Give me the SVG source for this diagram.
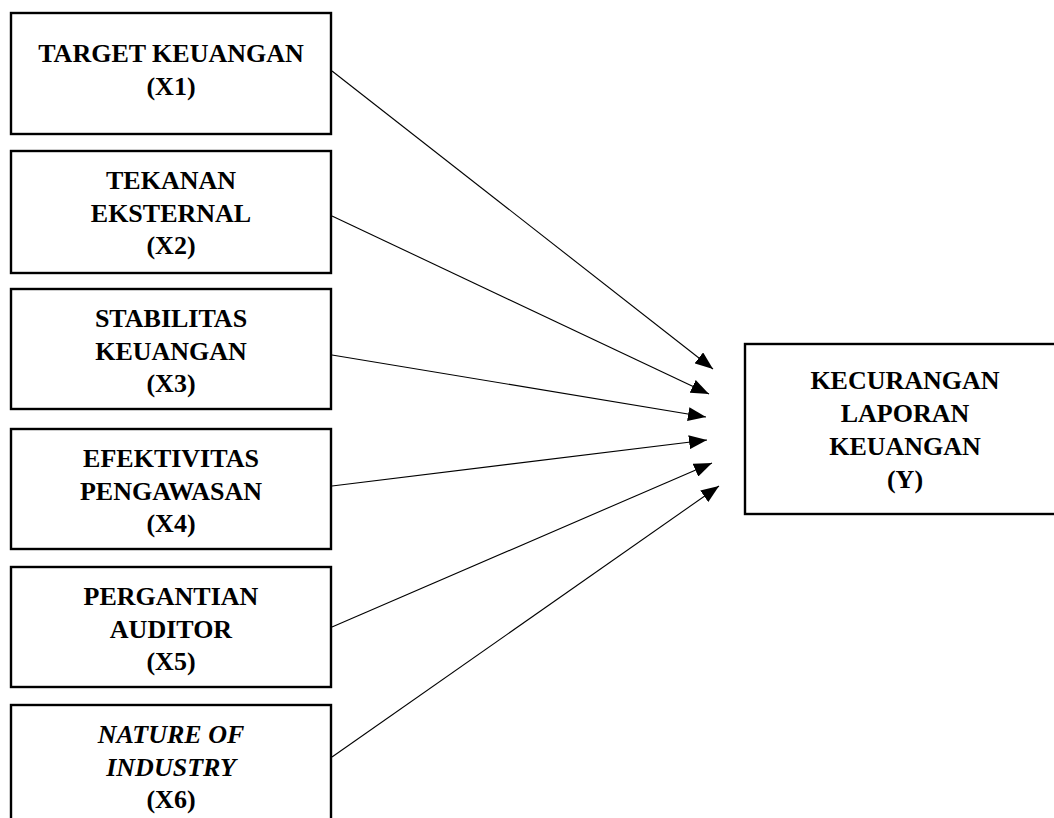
<svg xmlns="http://www.w3.org/2000/svg" width="1054" height="818" viewBox="0 0 1054 818">
<style>
  .box { fill: #ffffff; stroke: #000000; stroke-width: 2.4; }
  .lbl { font-family: "Liberation Serif", "Times New Roman", serif; font-weight: bold; font-size: 26px; fill: #000000; text-anchor: middle; }
  .it { font-style: italic; }
  .conn { stroke: #000000; stroke-width: 1.1; fill: none; marker-end: url(#arrow); }
</style>
<defs>
  <marker id="arrow" viewBox="0 0 18 14" refX="18" refY="7" markerWidth="18" markerHeight="14" markerUnits="userSpaceOnUse" orient="auto">
    <path d="M0,0 L18,7 L0,14 Z" fill="#000000"/>
  </marker>
</defs>
<rect width="1054" height="818" fill="#ffffff"/>

<g id="x1">
  <rect class="box" x="11" y="13" width="320" height="121"/>
  <text class="lbl" x="171" y="62">TARGET KEUANGAN</text>
  <text class="lbl" x="171" y="95">(X1)</text>
</g>
<g id="x2">
  <rect class="box" x="11" y="151" width="320" height="122"/>
  <text class="lbl" x="171" y="189">TEKANAN</text>
  <text class="lbl" x="171" y="222">EKSTERNAL</text>
  <text class="lbl" x="171" y="254">(X2)</text>
</g>
<g id="x3">
  <rect class="box" x="11" y="289" width="320" height="120"/>
  <text class="lbl" x="171" y="327">STABILITAS</text>
  <text class="lbl" x="171" y="360">KEUANGAN</text>
  <text class="lbl" x="171" y="392">(X3)</text>
</g>
<g id="x4">
  <rect class="box" x="11" y="429" width="320" height="120"/>
  <text class="lbl" x="171" y="467">EFEKTIVITAS</text>
  <text class="lbl" x="171" y="500">PENGAWASAN</text>
  <text class="lbl" x="171" y="532">(X4)</text>
</g>
<g id="x5">
  <rect class="box" x="11" y="567" width="320" height="120"/>
  <text class="lbl" x="171" y="605">PERGANTIAN</text>
  <text class="lbl" x="171" y="638">AUDITOR</text>
  <text class="lbl" x="171" y="670">(X5)</text>
</g>
<g id="x6">
  <rect class="box" x="11" y="705" width="320" height="125"/>
  <text class="lbl it" x="171" y="743">NATURE OF</text>
  <text class="lbl it" x="171" y="776">INDUSTRY</text>
  <text class="lbl" x="171" y="808">(X6)</text>
</g>
<g id="y">
  <rect class="box" x="745" y="344" width="325" height="170"/>
  <text class="lbl" x="905" y="389">KECURANGAN</text>
  <text class="lbl" x="905" y="422">LAPORAN</text>
  <text class="lbl" x="905" y="455">KEUANGAN</text>
  <text class="lbl" x="905" y="488">(Y)</text>
</g>

<g id="connectors">
  <line class="conn" x1="332" y1="71" x2="713" y2="369"/>
  <line class="conn" x1="332" y1="216" x2="709" y2="394"/>
  <line class="conn" x1="332" y1="355" x2="706" y2="417"/>
  <line class="conn" x1="332" y1="486" x2="707" y2="440"/>
  <line class="conn" x1="332" y1="627" x2="712" y2="463"/>
  <line class="conn" x1="332" y1="757" x2="719" y2="486"/>
</g>
</svg>
